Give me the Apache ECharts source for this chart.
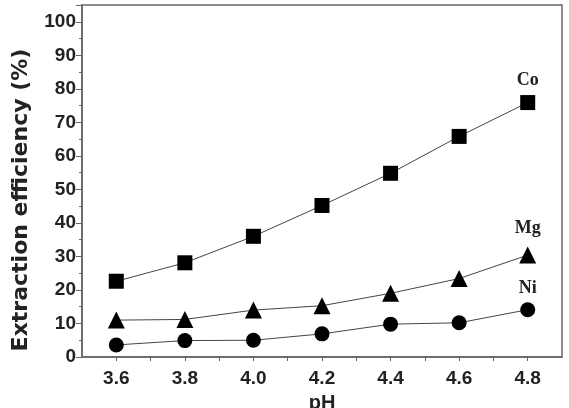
<!DOCTYPE html>
<html>
<head>
<meta charset="utf-8">
<script src="https://cdn.jsdelivr.net/npm/echarts@6/dist/echarts.min.js"></script>
<style>
  html, body { margin: 0; padding: 0; background: #fff; }
  #chart { width: 569px; height: 408px; }
</style>
</head>
<body>
<div id="chart"></div>
<script>
const phValues = [3.6, 3.8, 4.0, 4.2, 4.4, 4.6, 4.8];
const coData = [22.6, 28.1, 36.0, 45.2, 54.8, 65.8, 75.9];
const mgData = [11.0, 11.2, 14.0, 15.3, 19.0, 23.4, 30.4];
const niData = [3.6, 4.9, 5.0, 6.9, 9.8, 10.2, 14.1];
const seriesNames = ["Co", "Mg", "Ni"];
const seriesSymbols = ["rect", "triangle", "circle"];
const seriesSizes = [15, 17, 15];
const yTitle = "Extraction efficiency (%)";

const textColor = "#222";
const lineColor = "#444";

function pairs(arr) {
  return arr.map(function (v, i) { return [phValues[i], v]; });
}

const allData = [coData, mgData, niData];
const labelDist = [6, 9, 5];

let option = {
  animation: false,
  grid: {
    left: 82,
    right: 7,
    top: 5,
    bottom: 51,
    outerBoundsMode: "none",
    show: true,
    borderColor: "#666",
    borderWidth: 1.5,
  },
  graphic: [
    {
      type: "text",
      x: 10,
      y: 200,
      rotation: Math.PI / 2,
      style: {
        text: yTitle,
        fontFamily: "DejaVu Sans",
        fontWeight: "bold",
        fontSize: 22,
        fill: textColor,
        align: "center",
        verticalAlign: "top",
      },
    },
  ],
  xAxis: {
    type: "value",
    min: 3.5,
    max: 4.9,
    interval: 0.1,
    name: "pH",
    nameLocation: "middle",
    nameGap: 36,
    nameTextStyle: { fontFamily: "Liberation Sans", fontWeight: "bold", fontSize: 20, color: textColor, verticalAlign: "top" },
    axisLine: { lineStyle: { color: "#666", width: 1.5 } },
    axisTick: { show: true, length: 4, lineStyle: { color: "#666" } },
    axisLabel: {
      fontFamily: "Liberation Sans",
      fontWeight: "bold",
      fontSize: 19,
      color: textColor,
      margin: 12,
      showMinLabel: false,
      showMaxLabel: false,
      formatter: function (v) {
        const k = Math.round(v * 10);
        return k % 2 === 0 ? (k / 10).toFixed(1) : "";
      },
    },
    splitLine: { show: false },
  },
  yAxis: {
    type: "value",
    min: 0,
    max: 105,
    interval: 10,
    axisLine: { show: true, lineStyle: { color: "#666", width: 1.5 } },
    axisTick: { show: true, length: 6, lineStyle: { color: "#666" } },
    minorTick: { show: true, splitNumber: 2, length: 3, lineStyle: { color: "#666" } },
    axisLabel: {
      fontFamily: "Liberation Sans",
      fontWeight: "bold",
      fontSize: 19,
      color: textColor,
      margin: 6,
      showMaxLabel: false,
    },
    splitLine: { show: false },
  },
  series: [],
};

for (let i = 0; i < allData.length; i++) {
  const last = allData[i].length - 1;
  option.series.push({
    name: seriesNames[i],
    type: "line",
    data: pairs(allData[i]).map(function (p, j) {
      if (j !== last) return p;
      return {
        value: p,
        label: {
          show: true,
          position: "top",
          distance: labelDist[i],
          formatter: seriesNames[i],
          fontFamily: "Liberation Serif",
          fontWeight: "bold",
          fontSize: 18,
          color: textColor,
        },
      };
    }),
    symbol: seriesSymbols[i],
    symbolSize: seriesSizes[i],
    showAllSymbol: true,
    itemStyle: { color: "#000" },
    lineStyle: { color: lineColor, width: 1 },
  });
}

const chartObj = echarts.init(document.getElementById("chart"));
chartObj.setOption(option);
</script>
</body>
</html>
